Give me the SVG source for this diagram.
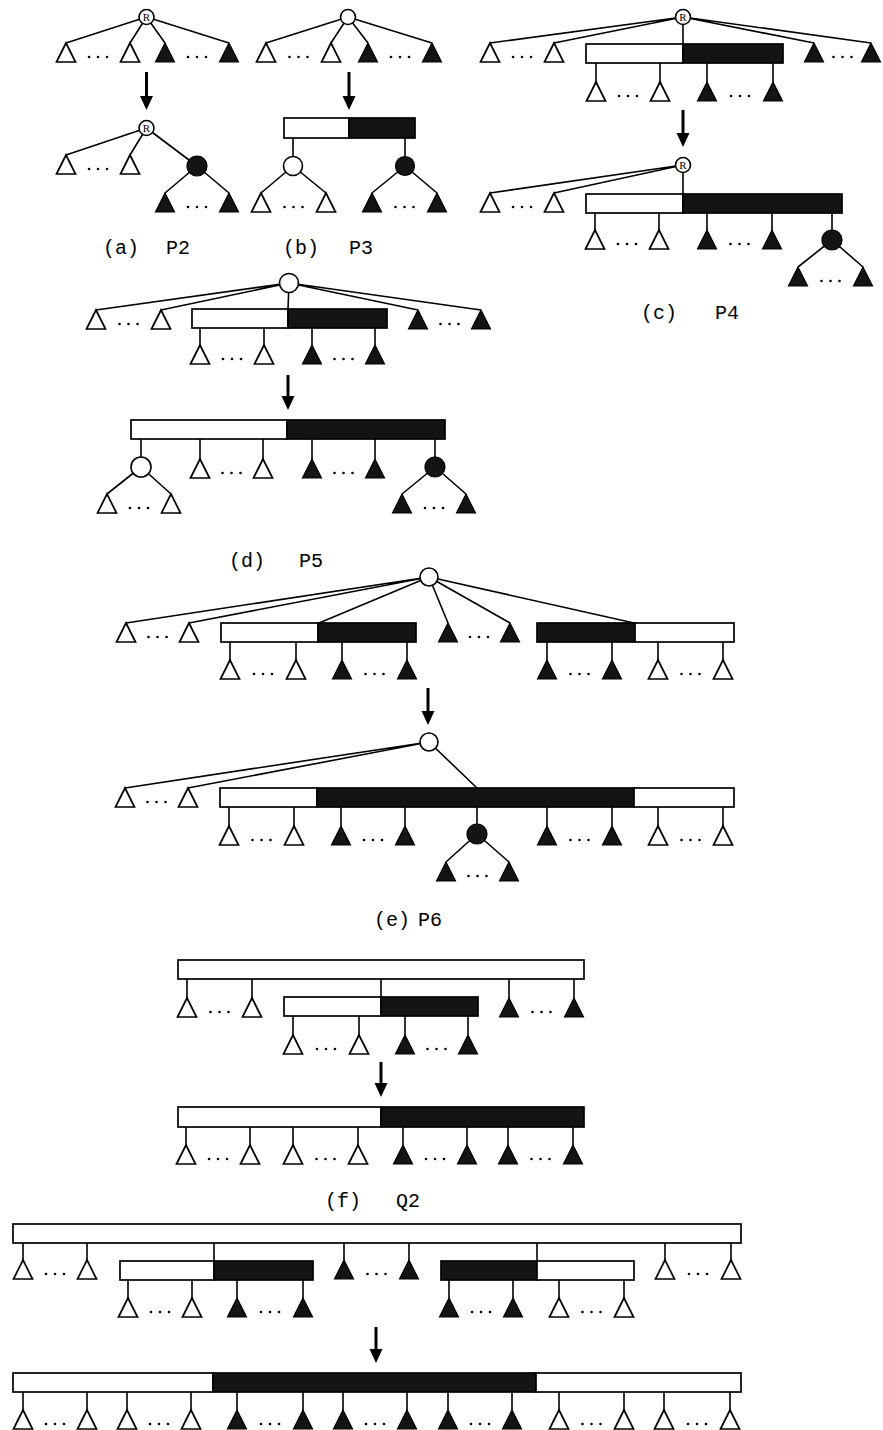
<svg xmlns="http://www.w3.org/2000/svg" width="883" height="1430" viewBox="0 0 883 1430">
<style>
.ln{stroke:#000;stroke-width:1.6;fill:none}
.ar{stroke:#000;stroke-width:3;fill:none}
.cw{fill:#fff;stroke:#000;stroke-width:1.6}
.cb{fill:#141414;stroke:#000;stroke-width:1.2}
.bw{fill:#fff;stroke:#000;stroke-width:1.7}
.bb{fill:#141414;stroke:#000;stroke-width:1.7}
.lbl{font-family:"Liberation Mono","Courier New",monospace;font-size:20px;fill:#000}
.rt{font-family:"Liberation Serif","Times New Roman",serif;font-size:11px;fill:#000;text-anchor:middle}
</style>
<defs>
<path id="tw" d="M0,0 L-9.5,19 L9.5,19 Z" fill="#fff" stroke="#000" stroke-width="1.7" stroke-linejoin="miter"/>
<path id="tb" d="M0,0 L-9.5,19 L9.5,19 Z" fill="#141414" stroke="#000" stroke-width="1.2"/>
<g id="dots" fill="#000"><circle cx="-9" cy="0" r="1.3"/><circle cx="0" cy="0" r="1.3"/><circle cx="9" cy="0" r="1.3"/></g>
<marker id="ah" markerUnits="userSpaceOnUse" markerWidth="16" markerHeight="14" viewBox="0 0 16 14" refX="4" refY="6.5" orient="auto"><path d="M0,0 L14,6.5 L0,13 Z" fill="#000"/></marker>
</defs>
<rect width="883" height="1430" fill="#fff"/>

<g id="connectors">
<!-- (a) -->
<path class="ln" d="M146.5,17 L66,43 M146.5,17 L130,43 M146.5,17 L165,43 M146.5,17 L229,43"/>
<line class="ar" x1="146.5" y1="72" x2="146.5" y2="100" marker-end="url(#ah)"/>
<path class="ln" d="M146.5,128 L66,155 M146.5,128 L130,155 M146.5,128 L197,166 M197,166 L165,193 M197,166 L229,193"/>
<!-- (b) -->
<path class="ln" d="M348,17 L266,43 M348,17 L331,43 M348,17 L368,43 M348,17 L432,43"/>
<line class="ar" x1="349" y1="72" x2="349" y2="100" marker-end="url(#ah)"/>
<path class="ln" d="M293,138 L293,157 M405,138 L405,157 M293,166 L261,193 M293,166 L326,193 M405,166 L372,193 M405,166 L437,193"/>
<!-- (c) -->
<path class="ln" d="M683,17 L490,43 M683,17 L554,43 M683,17 L683,44 M683,17 L814,43 M683,17 L871,43"/>
<path class="ln" d="M596,63 L596,82 M660,63 L660,82 M707,63 L707,82 M773,63 L773,82"/>
<line class="ar" x1="683" y1="110" x2="683" y2="137" marker-end="url(#ah)"/>
<path class="ln" d="M683,165 L490,193 M683,165 L554,193 M683,165 L683,194"/>
<path class="ln" d="M595,213 L595,230 M659,213 L659,230 M707,213 L707,230 M772,213 L772,230 M832,213 L832,231 M832,240 L798,267 M832,240 L863,267"/>
<!-- (d) -->
<path class="ln" d="M289,283 L96,310 M289,283 L161,310 M289,283 L288,309 M289,283 L418,310 M289,283 L481,310"/>
<path class="ln" d="M200,328 L200,345 M264,328 L264,345 M312,328 L312,345 M375,328 L375,345"/>
<line class="ar" x1="288" y1="375" x2="288" y2="400" marker-end="url(#ah)"/>
<path class="ln" d="M141,439 L141,457 M200,439 L200,459 M263,439 L263,459 M312,439 L312,459 M375,439 L375,459 M435,439 L435,457"/>
<path class="ln" d="M141,467 L107,494 M141,467 L171,494 M435,467 L402,494 M435,467 L466,494"/>
<!-- (e) -->
<path class="ln" d="M429,577 L126,623 M429,577 L189,623 M429,577 L319,623 M429,577 L448,623 M429,577 L510,623 M429,577 L634,623"/>
<path class="ln" d="M230,642 L230,660 M296,642 L296,660 M342,642 L342,660 M407,642 L407,660 M547,642 L547,660 M612,642 L612,660 M658,642 L658,660 M723,642 L723,660"/>
<line class="ar" x1="428" y1="688" x2="428" y2="715" marker-end="url(#ah)"/>
<path class="ln" d="M429,742 L125,788 M429,742 L188,788 M429,742 L477,788"/>
<path class="ln" d="M229,807 L229,826 M294,807 L294,826 M341,807 L341,826 M405,807 L405,826 M477,807 L477,824 M547,807 L547,826 M612,807 L612,826 M658,807 L658,826 M723,807 L723,826"/>
<path class="ln" d="M477,834 L446,862 M477,834 L509,862"/>
<!-- (f) -->
<path class="ln" d="M187,979 L187,998 M252,979 L252,998 M509,979 L509,998 M574,979 L574,998 M381,979 L381,997"/>
<path class="ln" d="M293,1016 L293,1035 M359,1016 L359,1035 M405,1016 L405,1035 M468,1016 L468,1035"/>
<line class="ar" x1="381" y1="1062" x2="381" y2="1087" marker-end="url(#ah)"/>
<path class="ln" d="M186,1127 L186,1145 M250,1127 L250,1145 M293,1127 L293,1145 M358,1127 L358,1145 M403,1127 L403,1145 M467,1127 L467,1145 M508,1127 L508,1145 M573,1127 L573,1145"/>
<!-- (g) -->
<path class="ln" d="M23,1243 L23,1260 M87,1243 L87,1260 M344,1243 L344,1260 M409,1243 L409,1260 M665,1243 L665,1260 M731,1243 L731,1260 M214,1243 L214,1261 M537,1243 L537,1261"/>
<path class="ln" d="M128,1280 L128,1298 M192,1280 L192,1298 M237,1280 L237,1298 M303,1280 L303,1298 M449,1280 L449,1298 M513,1280 L513,1298 M559,1280 L559,1298 M624,1280 L624,1298"/>
<line class="ar" x1="376" y1="1327" x2="376" y2="1353" marker-end="url(#ah)"/>
<path class="ln" d="M23,1392 L23,1410 M87,1392 L87,1410 M127,1392 L127,1410 M191,1392 L191,1410 M237,1392 L237,1410 M303,1392 L303,1410 M343,1392 L343,1410 M407,1392 L407,1410 M448,1392 L448,1410 M512,1392 L512,1410 M559,1392 L559,1410 M624,1392 L624,1410 M664,1392 L664,1410 M730,1392 L730,1410"/>
</g>

<!-- panel (a) -->
<g id="panel-a">
<g id="a-root1"><circle class="cw" cx="146.5" cy="17" r="7.5"/><text class="rt" x="146.5" y="21">R</text></g>
<g id="a-top-leaves"><use href="#tw" x="66" y="43"/><use href="#tw" x="130" y="43"/><use href="#tb" x="165" y="43"/><use href="#tb" x="229" y="43"/><use href="#dots" x="98" y="57"/><use href="#dots" x="197" y="57"/></g>
<g id="a-root2"><circle class="cw" cx="146.5" cy="128" r="7.5"/><text class="rt" x="146.5" y="132">R</text></g>
<g id="a-bottom-leaves"><use href="#tw" x="66" y="155"/><use href="#tw" x="130" y="155"/><use href="#dots" x="98" y="169"/></g>
<g id="a-black-node"><circle class="cb" cx="197" cy="166" r="10"/></g>
<g id="a-black-leaves"><use href="#tb" x="165" y="193"/><use href="#tb" x="229" y="193"/><use href="#dots" x="197" y="207"/></g>
<text class="lbl" y="254"><tspan x="103">(a)</tspan><tspan x="166">P2</tspan></text>
</g>

<!-- panel (b) -->
<g id="panel-b">
<g id="b-root"><circle class="cw" cx="348" cy="17" r="7.5"/></g>
<g id="b-top-leaves"><use href="#tw" x="266" y="43"/><use href="#tw" x="331" y="43"/><use href="#tb" x="368" y="43"/><use href="#tb" x="432" y="43"/><use href="#dots" x="298.5" y="57"/><use href="#dots" x="400" y="57"/></g>
<g id="b-box"><rect class="bw" x="284" y="118" width="65" height="20"/><rect class="bb" x="349" y="118" width="66" height="20"/></g>
<g id="b-white-node"><circle class="cw" cx="293" cy="166" r="9.5"/></g>
<g id="b-black-node"><circle class="cb" cx="405" cy="166" r="9.5"/></g>
<g id="b-leaves"><use href="#tw" x="261" y="193"/><use href="#tw" x="326" y="193"/><use href="#tb" x="372" y="193"/><use href="#tb" x="437" y="193"/><use href="#dots" x="293.5" y="207"/><use href="#dots" x="404.5" y="207"/></g>
<text class="lbl" y="254"><tspan x="283">(b)</tspan><tspan x="349">P3</tspan></text>
</g>

<!-- panel (c) -->
<g id="panel-c">
<g id="c-box1"><rect class="bw" x="586" y="44" width="97" height="19"/><rect class="bb" x="683" y="44" width="100" height="19"/></g>
<g id="c-root1"><circle class="cw" cx="683" cy="17" r="7.5"/><text class="rt" x="683" y="21">R</text></g>
<g id="c-top-leaves"><use href="#tw" x="490" y="43"/><use href="#tw" x="554" y="43"/><use href="#tb" x="814" y="43"/><use href="#tb" x="871" y="43"/><use href="#dots" x="522" y="57"/><use href="#dots" x="842.5" y="57"/></g>
<g id="c-box1-leaves"><use href="#tw" x="596" y="82"/><use href="#tw" x="660" y="82"/><use href="#tb" x="707" y="82"/><use href="#tb" x="773" y="82"/><use href="#dots" x="628" y="96"/><use href="#dots" x="740" y="96"/></g>
<g id="c-box2"><rect class="bw" x="586" y="194" width="97" height="19"/><rect class="bb" x="683" y="194" width="159" height="19"/></g>
<g id="c-root2"><circle class="cw" cx="683" cy="165" r="7.5"/><text class="rt" x="683" y="169">R</text></g>
<g id="c-bottom-leaves"><use href="#tw" x="490" y="193"/><use href="#tw" x="554" y="193"/><use href="#dots" x="522" y="207"/></g>
<g id="c-box2-leaves"><use href="#tw" x="595" y="230"/><use href="#tw" x="659" y="230"/><use href="#tb" x="707" y="230"/><use href="#tb" x="772" y="230"/><use href="#dots" x="627" y="244"/><use href="#dots" x="739.5" y="244"/></g>
<g id="c-black-node"><circle class="cb" cx="832" cy="240" r="10"/></g>
<g id="c-black-leaves"><use href="#tb" x="798" y="267"/><use href="#tb" x="863" y="267"/><use href="#dots" x="830.5" y="281"/></g>
<text class="lbl" y="319"><tspan x="641">(c)</tspan><tspan x="715">P4</tspan></text>
</g>

<!-- panel (d) -->
<g id="panel-d">
<g id="d-box1"><rect class="bw" x="192" y="309" width="96" height="19"/><rect class="bb" x="288" y="309" width="99" height="19"/></g>
<g id="d-root"><circle class="cw" cx="289" cy="283" r="9.5"/></g>
<g id="d-top-leaves"><use href="#tw" x="96" y="310"/><use href="#tw" x="161" y="310"/><use href="#tb" x="418" y="310"/><use href="#tb" x="481" y="310"/><use href="#dots" x="128.5" y="324"/><use href="#dots" x="449.5" y="324"/></g>
<g id="d-box1-leaves"><use href="#tw" x="200" y="345"/><use href="#tw" x="264" y="345"/><use href="#tb" x="312" y="345"/><use href="#tb" x="375" y="345"/><use href="#dots" x="232" y="359"/><use href="#dots" x="343.5" y="359"/></g>
<g id="d-box2"><rect class="bw" x="131" y="420" width="156" height="19"/><rect class="bb" x="287" y="420" width="158" height="19"/></g>
<g id="d-white-node"><circle class="cw" cx="141" cy="467" r="10"/></g>
<g id="d-black-node"><circle class="cb" cx="435" cy="467" r="10"/></g>
<g id="d-box2-leaves"><use href="#tw" x="200" y="459"/><use href="#tw" x="263" y="459"/><use href="#tb" x="312" y="459"/><use href="#tb" x="375" y="459"/><use href="#dots" x="231.5" y="473"/><use href="#dots" x="343.5" y="473"/></g>
<g id="d-node-leaves"><use href="#tw" x="107" y="494"/><use href="#tw" x="171" y="494"/><use href="#tb" x="402" y="494"/><use href="#tb" x="466" y="494"/><use href="#dots" x="139" y="508"/><use href="#dots" x="434" y="508"/></g>
<text class="lbl" y="567"><tspan x="229">(d)</tspan><tspan x="299">P5</tspan></text>
</g>

<!-- panel (e) -->
<g id="panel-e">
<g id="e-box1"><rect class="bw" x="221" y="623" width="97" height="19"/><rect class="bb" x="318" y="623" width="98" height="19"/></g>
<g id="e-box2"><rect class="bb" x="537" y="623" width="98" height="19"/><rect class="bw" x="635" y="623" width="99" height="19"/></g>
<g id="e-root1"><circle class="cw" cx="429" cy="577" r="9"/></g>
<g id="e-top-leaves"><use href="#tw" x="126" y="623"/><use href="#tw" x="189" y="623"/><use href="#tb" x="448" y="623"/><use href="#tb" x="510" y="623"/><use href="#dots" x="157.5" y="637"/><use href="#dots" x="479" y="637"/></g>
<g id="e-box-leaves"><use href="#tw" x="230" y="660"/><use href="#tw" x="296" y="660"/><use href="#tb" x="342" y="660"/><use href="#tb" x="407" y="660"/><use href="#tb" x="547" y="660"/><use href="#tb" x="612" y="660"/><use href="#tw" x="658" y="660"/><use href="#tw" x="723" y="660"/><use href="#dots" x="263" y="674"/><use href="#dots" x="374.5" y="674"/><use href="#dots" x="579.5" y="674"/><use href="#dots" x="690.5" y="674"/></g>
<g id="e-box3"><rect class="bw" x="220" y="788" width="97" height="19"/><rect class="bb" x="317" y="788" width="317" height="19"/><rect class="bw" x="634" y="788" width="100" height="19"/></g>
<g id="e-root2"><circle class="cw" cx="429" cy="742" r="9"/></g>
<g id="e-bottom-leaves"><use href="#tw" x="125" y="788"/><use href="#tw" x="188" y="788"/><use href="#dots" x="156.5" y="802"/></g>
<g id="e-box3-leaves"><use href="#tw" x="229" y="826"/><use href="#tw" x="294" y="826"/><use href="#tb" x="341" y="826"/><use href="#tb" x="405" y="826"/><use href="#tb" x="547" y="826"/><use href="#tb" x="612" y="826"/><use href="#tw" x="658" y="826"/><use href="#tw" x="723" y="826"/><use href="#dots" x="261.5" y="840"/><use href="#dots" x="373" y="840"/><use href="#dots" x="579.5" y="840"/><use href="#dots" x="690.5" y="840"/></g>
<g id="e-black-node"><circle class="cb" cx="477" cy="834" r="10"/></g>
<g id="e-black-leaves"><use href="#tb" x="446" y="862"/><use href="#tb" x="509" y="862"/><use href="#dots" x="477.5" y="876"/></g>
<text class="lbl" y="926"><tspan x="374">(e)</tspan><tspan x="418">P6</tspan></text>
</g>

<!-- panel (f) -->
<g id="panel-f">
<g id="f-box1"><rect class="bw" x="178" y="960" width="406" height="19"/></g>
<g id="f-box1-leaves"><use href="#tw" x="187" y="998"/><use href="#tw" x="252" y="998"/><use href="#tb" x="509" y="998"/><use href="#tb" x="574" y="998"/><use href="#dots" x="219.5" y="1012"/><use href="#dots" x="541.5" y="1012"/></g>
<g id="f-box2"><rect class="bw" x="284" y="997" width="97" height="19"/><rect class="bb" x="381" y="997" width="97" height="19"/></g>
<g id="f-box2-leaves"><use href="#tw" x="293" y="1035"/><use href="#tw" x="359" y="1035"/><use href="#tb" x="405" y="1035"/><use href="#tb" x="468" y="1035"/><use href="#dots" x="326" y="1049"/><use href="#dots" x="436.5" y="1049"/></g>
<g id="f-box3"><rect class="bw" x="178" y="1107" width="203" height="20"/><rect class="bb" x="381" y="1107" width="203" height="20"/></g>
<g id="f-box3-leaves"><use href="#tw" x="186" y="1145"/><use href="#tw" x="250" y="1145"/><use href="#tw" x="293" y="1145"/><use href="#tw" x="358" y="1145"/><use href="#tb" x="403" y="1145"/><use href="#tb" x="467" y="1145"/><use href="#tb" x="508" y="1145"/><use href="#tb" x="573" y="1145"/><use href="#dots" x="218" y="1159"/><use href="#dots" x="325.5" y="1159"/><use href="#dots" x="435" y="1159"/><use href="#dots" x="540.5" y="1159"/></g>
<text class="lbl" y="1207"><tspan x="325">(f)</tspan><tspan x="396">Q2</tspan></text>
</g>

<!-- panel (g) -->
<g id="panel-g">
<g id="g-box1"><rect class="bw" x="13" y="1224" width="728" height="19"/></g>
<g id="g-box1-leaves"><use href="#tw" x="23" y="1260"/><use href="#tw" x="87" y="1260"/><use href="#tb" x="344" y="1260"/><use href="#tb" x="409" y="1260"/><use href="#tw" x="665" y="1260"/><use href="#tw" x="731" y="1260"/><use href="#dots" x="55" y="1274"/><use href="#dots" x="376.5" y="1274"/><use href="#dots" x="698" y="1274"/></g>
<g id="g-box2"><rect class="bw" x="120" y="1261" width="94" height="19"/><rect class="bb" x="214" y="1261" width="99" height="19"/></g>
<g id="g-box3"><rect class="bb" x="441" y="1261" width="96" height="19"/><rect class="bw" x="537" y="1261" width="97" height="19"/></g>
<g id="g-inner-leaves"><use href="#tw" x="128" y="1298"/><use href="#tw" x="192" y="1298"/><use href="#tb" x="237" y="1298"/><use href="#tb" x="303" y="1298"/><use href="#tb" x="449" y="1298"/><use href="#tb" x="513" y="1298"/><use href="#tw" x="559" y="1298"/><use href="#tw" x="624" y="1298"/><use href="#dots" x="160" y="1312"/><use href="#dots" x="270" y="1312"/><use href="#dots" x="481" y="1312"/><use href="#dots" x="591.5" y="1312"/></g>
<g id="g-box4"><rect class="bw" x="13" y="1373" width="200" height="19"/><rect class="bb" x="213" y="1373" width="323" height="19"/><rect class="bw" x="536" y="1373" width="205" height="19"/></g>
<g id="g-box4-leaves"><use href="#tw" x="23" y="1410"/><use href="#tw" x="87" y="1410"/><use href="#tw" x="127" y="1410"/><use href="#tw" x="191" y="1410"/><use href="#tb" x="237" y="1410"/><use href="#tb" x="303" y="1410"/><use href="#tb" x="343" y="1410"/><use href="#tb" x="407" y="1410"/><use href="#tb" x="448" y="1410"/><use href="#tb" x="512" y="1410"/><use href="#tw" x="559" y="1410"/><use href="#tw" x="624" y="1410"/><use href="#tw" x="664" y="1410"/><use href="#tw" x="730" y="1410"/><use href="#dots" x="55" y="1424"/><use href="#dots" x="159" y="1424"/><use href="#dots" x="270" y="1424"/><use href="#dots" x="375" y="1424"/><use href="#dots" x="480" y="1424"/><use href="#dots" x="591.5" y="1424"/><use href="#dots" x="697" y="1424"/></g>
</g>
</svg>
